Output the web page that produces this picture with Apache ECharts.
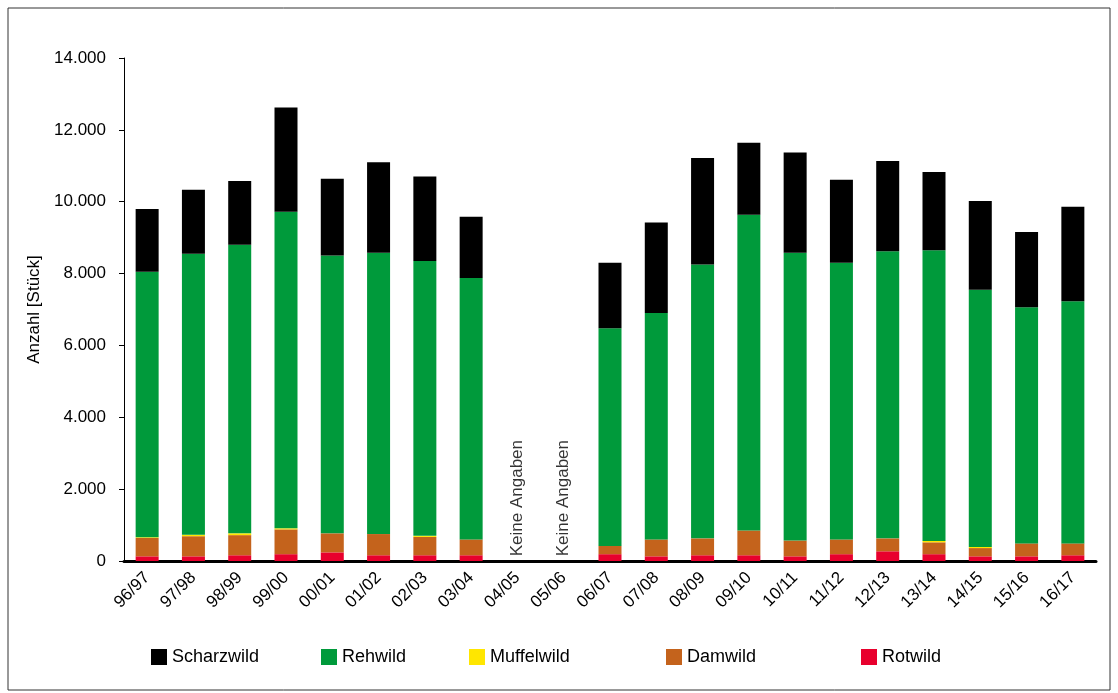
<!DOCTYPE html>
<html>
<head>
<meta charset="utf-8">
<script src="https://cdn.jsdelivr.net/npm/echarts@6/dist/echarts.min.js"></script>
<style>html,body{margin:0;padding:0;background:#fff}#c{width:1118px;height:693px}</style>
</head>
<body>
<div id="c"></div>
<script>
var seasons = ['96/97','97/98','98/99','99/00','00/01','01/02','02/03','03/04','04/05','05/06','06/07','07/08','08/09','09/10','10/11','11/12','12/13','13/14','14/15','15/16','16/17'];
var rotwild    = [130,130,160,190,240,160,160,160,null,null,190,130,160,160,130,190,270,190,130,130,160];
var damwild    = [510,560,560,690,530,590,510,440,null,null,230,470,470,690,440,410,360,330,230,360,330];
var muffelwild = [20,40,50,30,0,0,30,0,null,null,0,0,0,0,0,0,0,40,30,0,0];
var rehwild    = [7390,7820,8030,8810,7730,7830,7650,7280,null,null,6060,6300,7620,8790,8010,7700,7990,8090,7160,6570,6740];
var scharzwild = [1750,1780,1780,2900,2140,2520,2350,1700,null,null,1820,2520,2970,2000,2790,2310,2510,2180,2470,2100,2630];
var noData = [[8,1750],[9,1750]];
var legendNames = ['Scharzwild', 'Rehwild', 'Muffelwild', 'Damwild', 'Rotwild'];
var legendLeft = [146, 316, 464, 661, 856];

var chart = echarts.init(document.getElementById('c'));
var font = {fontSize: 18, color: '#000', fontFamily: 'Liberation Sans'};
function bar(name, data, color) {
  return {name: name, type: 'bar', stack: 'a', data: data, barWidth: 23, itemStyle: {color: color}};
}
chart.setOption({
  animation: false,
  graphic: [{type: 'rect', shape: {x: 8, y: 8, width: 1102, height: 682}, style: {fill: 'none', stroke: '#333', lineWidth: 1}}],
  grid: {left: 124, right: 22, top: 58, bottom: 132},
  legend: legendNames.map(function (n, i) {
    return {data: [n], top: 643, left: legendLeft[i], itemWidth: 16, itemHeight: 16, itemGap: 8,
      textStyle: font, icon: 'rect'};
  }),
  xAxis: {
    type: 'category', data: seasons,
    axisLine: {lineStyle: {color: '#000', width: 3}},
    axisTick: {show: false},
    axisLabel: {rotate: 45, fontSize: 17, color: '#000', fontFamily: 'Liberation Sans', interval: 0, margin: 14}
  },
  yAxis: {
    type: 'value', min: 0, max: 14000, interval: 2000,
    name: 'Anzahl [Stück]', nameLocation: 'middle', nameGap: 80,
    nameTextStyle: {fontSize: 17, color: '#000', fontFamily: 'Liberation Sans'},
    axisLine: {show: true, lineStyle: {color: '#000', width: 1}},
    axisTick: {show: true, length: 5, lineStyle: {color: '#000'}},
    splitLine: {show: false},
    axisLabel: {fontSize: 17, color: '#000', fontFamily: 'Liberation Sans', margin: 18,
      formatter: function (v) { return v === 0 ? '0' : (v / 1000).toFixed(3); }}
  },
  series: [
    bar('Rotwild', rotwild, '#e8002d'),
    bar('Damwild', damwild, '#c4631c'),
    bar('Muffelwild', muffelwild, '#ffe600'),
    bar('Rehwild', rehwild, '#009a3b'),
    bar('Scharzwild', scharzwild, '#000000'),
    {type: 'scatter', data: noData, symbolSize: 0, silent: true,
      label: {show: true, formatter: 'Keine Angaben', rotate: 90, position: 'inside',
        fontSize: 17, color: '#000', fontFamily: 'Liberation Sans'}}
  ]
});
</script>
</body>
</html>
